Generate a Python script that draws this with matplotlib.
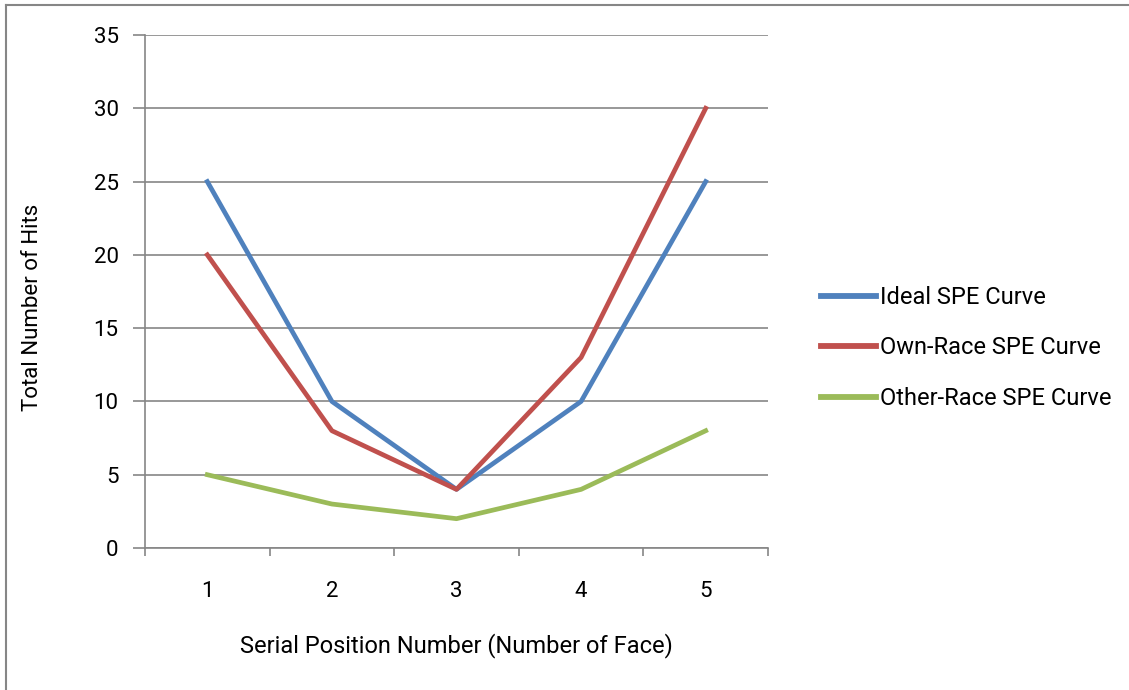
import matplotlib.pyplot as plt
from matplotlib.lines import Line2D

positions = [1, 2, 3, 4, 5]
ideal = [25, 10, 4, 10, 25]
own_race = [20, 8, 4, 13, 30]
other_race = [5, 3, 2, 4, 8]

plt.rcParams["font.family"] = ["Roboto", "DejaVu Sans"]

grey = "#868686"

fig = plt.figure(figsize=(11.29, 6.9), dpi=100)
ax = fig.add_axes([145 / 1129, 1 - 548 / 690, (768 - 145) / 1129, (548 - 35) / 690])

ax.plot(positions, ideal, color="#4F81BD", lw=3.4, label="Ideal SPE Curve", solid_joinstyle="round")
ax.plot(positions, own_race, color="#C0504D", lw=3.4, label="Own-Race SPE Curve", solid_joinstyle="round")
ax.plot(positions, other_race, color="#9BBB59", lw=3.4, label="Other-Race SPE Curve", solid_joinstyle="round")

ax.set_xlim(0.5, 5.5)
ax.set_ylim(0, 35)
ax.set_yticks(range(0, 36, 5))
ax.set_xticks(positions)
ax.set_xticks([0.5, 1.5, 2.5, 3.5, 4.5, 5.5], minor=True)
ax.tick_params(axis="x", which="major", length=0, pad=24, labelsize=16)
ax.tick_params(axis="x", which="minor", length=6, width=1.2, color=grey, direction="out")
ax.tick_params(axis="y", length=9, width=1.2, color=grey, pad=10, labelsize=16)

ax.grid(axis="y", color=grey, lw=1.2)
ax.set_axisbelow(True)
for side in ["top", "right"]:
    ax.spines[side].set_visible(False)
for side in ["left", "bottom"]:
    ax.spines[side].set_color(grey)
    ax.spines[side].set_linewidth(1.2)

ax.set_xlabel("Serial Position Number (Number of Face)", fontsize=17, labelpad=22)
ax.set_ylabel("Total Number of Hits", fontsize=16)
ax.yaxis.set_label_coords(-0.164, 0.47)

leg = ax.legend(loc="center left", bbox_to_anchor=(800 / 1129, 1 - 348 / 690),
                bbox_transform=fig.transFigure, frameon=False, fontsize=17,
                handlelength=2.3, handletextpad=0.2, labelspacing=1.17)
for line in leg.get_lines():
    line.set_linewidth(4.2)

# outer chart border (top and left edges)
fig.add_artist(Line2D([6 / 1129, 1], [1 - 5 / 690, 1 - 5 / 690], color=grey, lw=1.5, transform=fig.transFigure))
fig.add_artist(Line2D([6 / 1129, 6 / 1129], [0, 1 - 5 / 690], color=grey, lw=1.5, transform=fig.transFigure))

fig.savefig("out.png", dpi=100)
